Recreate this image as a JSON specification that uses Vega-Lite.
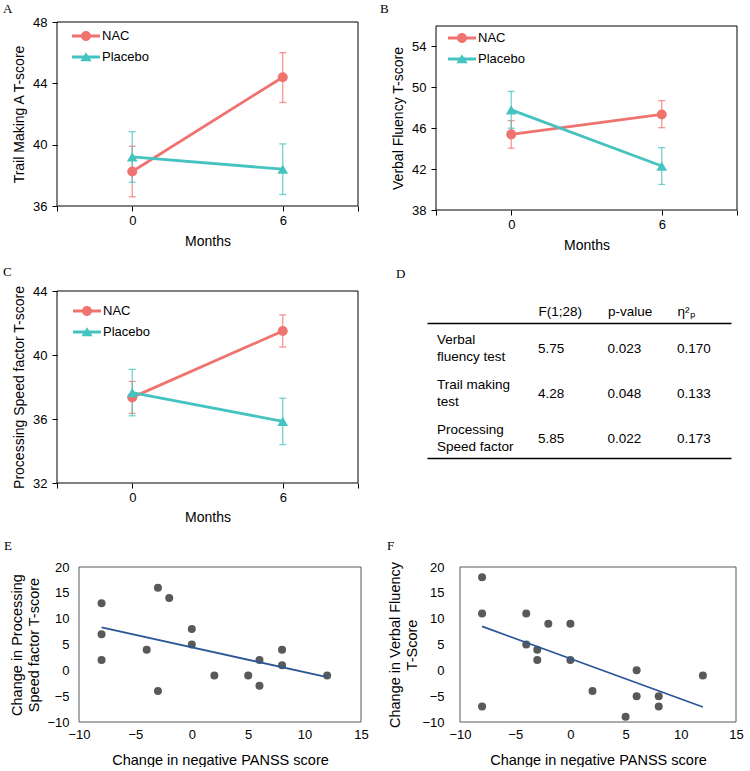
{
  "$schema": "https://vega.github.io/schema/vega-lite/v6.json",
  "background": "white",
  "padding": {"left": 3, "top": 3, "right": 0, "bottom": 0},
  "columns": 2,
  "bounds": "flush",
  "align": "each",
  "spacing": {"row": 81, "column": 75},
  "resolve": {"scale": {"fill": "independent", "shape": "independent"}, "legend": {"fill": "independent", "shape": "independent"}},
  "config": {
    "view": {"stroke": null},
    "font": "Liberation Sans",
    "axis": {"labelFont": "Liberation Sans", "titleFont": "Liberation Sans", "labelFontSize": 13, "titleFontSize": 14, "labelColor": "#000", "titleColor": "#000", "titleFontWeight": "normal", "grid": false, "domain": false, "tickColor": "#000", "labelFlush": false},
    "legend": {"labelFont": "Liberation Sans", "labelFontSize": 13, "labelColor": "#000"},
    "title": {"font": "Liberation Serif", "fontSize": 13, "fontWeight": "normal", "anchor": "start", "frame": "group", "offset": 4, "color": "#000"}
  },
  "concat": [
    {
      "width": 301, "height": 184,
      "title": {"text": "A", "dx": -54, "dy": 4},
      "data": {"values": [
        {"month": 0, "group": "NAC", "mean": 38.25, "lo": 36.6, "hi": 39.9},
        {"month": 6, "group": "NAC", "mean": 44.4, "lo": 42.75, "hi": 46.0},
        {"month": 0, "group": "Placebo", "mean": 39.2, "lo": 37.55, "hi": 40.85},
        {"month": 6, "group": "Placebo", "mean": 38.4, "lo": 36.75, "hi": 40.05}
      ]},
      "layer": [
        {"data": {"values": [{}]}, "mark": {"type": "rect", "filled": false, "stroke": "#000", "strokeWidth": 1},
         "encoding": {"x": {"datum": -3, "type": "quantitative", "scale": {"domain": [-3, 9], "nice": false, "zero": false}, "axis": {"values": [-3, 0, 6, 9], "labelExpr": "datum.value == 0 || datum.value == 6 ? datum.label : ''", "title": "Months", "tickSize": 5, "labelPadding": 3, "titlePadding": 7}}, "x2": {"datum": 9},
           "y": {"datum": 36, "type": "quantitative", "scale": {"domain": [36, 48], "nice": false, "zero": false}, "axis": {"values": [36, 40, 44, 48], "title": "Trail Making A T-score", "tickSize": 5, "labelPadding": 5, "titlePadding": 6}}, "y2": {"datum": 48}}},
        {"transform": [{"filter": "datum.group == 'NAC'"}], "mark": {"type": "errorbar", "ticks": true, "size": 7, "thickness": 1.3, "color": "#EF7470", "opacity": 0.75},
         "encoding": {"x": {"field": "month", "type": "quantitative", "scale": {"domain": [-3, 9], "nice": false, "zero": false}, "axis": {"values": [-3, 0, 6, 9], "labelExpr": "datum.value == 0 || datum.value == 6 ? datum.label : ''", "title": "Months", "tickSize": 5, "labelPadding": 3, "titlePadding": 7}},
           "y": {"field": "lo", "type": "quantitative", "scale": {"domain": [36, 48], "nice": false, "zero": false}, "axis": {"values": [36, 40, 44, 48], "title": "Trail Making A T-score", "tickSize": 5, "labelPadding": 5, "titlePadding": 6}}, "y2": {"field": "hi"}}},
        {"transform": [{"filter": "datum.group == 'Placebo'"}], "mark": {"type": "errorbar", "ticks": true, "size": 7, "thickness": 1.3, "color": "#45C3C1", "opacity": 0.75},
         "encoding": {"x": {"field": "month", "type": "quantitative", "scale": {"domain": [-3, 9], "nice": false, "zero": false}, "axis": {"values": [-3, 0, 6, 9], "labelExpr": "datum.value == 0 || datum.value == 6 ? datum.label : ''", "title": "Months", "tickSize": 5, "labelPadding": 3, "titlePadding": 7}},
           "y": {"field": "lo", "type": "quantitative", "scale": {"domain": [36, 48], "nice": false, "zero": false}, "axis": {"values": [36, 40, 44, 48], "title": "Trail Making A T-score", "tickSize": 5, "labelPadding": 5, "titlePadding": 6}}, "y2": {"field": "hi"}}},
        {"transform": [{"filter": "datum.group == 'NAC'"}], "mark": {"type": "line", "strokeWidth": 2.8, "color": "#EF7470"},
         "encoding": {"x": {"field": "month", "type": "quantitative", "scale": {"domain": [-3, 9], "nice": false, "zero": false}, "axis": {"values": [-3, 0, 6, 9], "labelExpr": "datum.value == 0 || datum.value == 6 ? datum.label : ''", "title": "Months", "tickSize": 5, "labelPadding": 3, "titlePadding": 7}},
           "y": {"field": "mean", "type": "quantitative", "scale": {"domain": [36, 48], "nice": false, "zero": false}, "axis": {"values": [36, 40, 44, 48], "title": "Trail Making A T-score", "tickSize": 5, "labelPadding": 5, "titlePadding": 6}}}},
        {"transform": [{"filter": "datum.group == 'Placebo'"}], "mark": {"type": "line", "strokeWidth": 2.8, "color": "#45C3C1"},
         "encoding": {"x": {"field": "month", "type": "quantitative", "scale": {"domain": [-3, 9], "nice": false, "zero": false}, "axis": {"values": [-3, 0, 6, 9], "labelExpr": "datum.value == 0 || datum.value == 6 ? datum.label : ''", "title": "Months", "tickSize": 5, "labelPadding": 3, "titlePadding": 7}},
           "y": {"field": "mean", "type": "quantitative", "scale": {"domain": [36, 48], "nice": false, "zero": false}, "axis": {"values": [36, 40, 44, 48], "title": "Trail Making A T-score", "tickSize": 5, "labelPadding": 5, "titlePadding": 6}}}},
        {"transform": [{"filter": "datum.group == 'NAC'"}], "mark": {"type": "point", "shape": "circle", "filled": true, "size": 100, "opacity": 1, "color": "#EF7470"},
         "encoding": {"x": {"field": "month", "type": "quantitative", "scale": {"domain": [-3, 9], "nice": false, "zero": false}, "axis": {"values": [-3, 0, 6, 9], "labelExpr": "datum.value == 0 || datum.value == 6 ? datum.label : ''", "title": "Months", "tickSize": 5, "labelPadding": 3, "titlePadding": 7}},
           "y": {"field": "mean", "type": "quantitative", "scale": {"domain": [36, 48], "nice": false, "zero": false}, "axis": {"values": [36, 40, 44, 48], "title": "Trail Making A T-score", "tickSize": 5, "labelPadding": 5, "titlePadding": 6}}}},
        {"transform": [{"filter": "datum.group == 'Placebo'"}], "mark": {"type": "point", "shape": "triangle-up", "filled": true, "size": 115, "opacity": 1, "color": "#45C3C1"},
         "encoding": {"x": {"field": "month", "type": "quantitative", "scale": {"domain": [-3, 9], "nice": false, "zero": false}, "axis": {"values": [-3, 0, 6, 9], "labelExpr": "datum.value == 0 || datum.value == 6 ? datum.label : ''", "title": "Months", "tickSize": 5, "labelPadding": 3, "titlePadding": 7}},
           "y": {"field": "mean", "type": "quantitative", "scale": {"domain": [36, 48], "nice": false, "zero": false}, "axis": {"values": [36, 40, 44, 48], "title": "Trail Making A T-score", "tickSize": 5, "labelPadding": 5, "titlePadding": 6}}}},
        {"transform": [{"filter": "false"}], "mark": {"type": "point", "filled": true, "opacity": 1, "size": 400},
         "encoding": {
           "fill": {"field": "group", "type": "nominal", "scale": {"domain": ["NAC", "Placebo"], "range": ["#EF7470", "#45C3C1"]},
             "legend": {"orient": "none", "legendX": 19, "legendY": 4, "direction": "vertical", "title": null, "symbolSize": 400, "labelOffset": 6, "rowPadding": 4, "padding": 0, "symbolStrokeWidth": 0}},
           "shape": {"field": "group", "type": "nominal", "scale": {"domain": ["NAC", "Placebo"], "range": ["M-1.4,-0.14H1.4V0.14H-1.4Z M0.5,0A0.5,0.5,0,1,1,-0.5,0A0.5,0.5,0,1,1,0.5,0Z", "M-1.4,-0.14H1.4V0.14H-1.4Z M0,-0.47L0.56,0.42H-0.56Z"]},
             "legend": {"orient": "none", "legendX": 19, "legendY": 4, "direction": "vertical", "title": null, "symbolSize": 400, "labelOffset": 6, "rowPadding": 4, "padding": 0, "symbolStrokeWidth": 0}}
         }}
      ]
    },
    {
      "width": 301, "height": 188,
      "title": {"text": "B", "dx": -56, "dy": -2},
      "data": {"values": [
        {"month": 0, "group": "NAC", "mean": 45.4, "lo": 44.05, "hi": 46.75},
        {"month": 6, "group": "NAC", "mean": 47.35, "lo": 46.05, "hi": 48.7},
        {"month": 0, "group": "Placebo", "mean": 47.8, "lo": 46.0, "hi": 49.6},
        {"month": 6, "group": "Placebo", "mean": 42.3, "lo": 40.5, "hi": 44.1}
      ]},
      "layer": [
        {"data": {"values": [{}]}, "mark": {"type": "rect", "filled": false, "stroke": "#000", "strokeWidth": 1},
         "encoding": {"x": {"datum": -3, "type": "quantitative", "scale": {"domain": [-3, 9], "nice": false, "zero": false}, "axis": {"values": [-3, 0, 6, 9], "labelExpr": "datum.value == 0 || datum.value == 6 ? datum.label : ''", "title": "Months", "tickSize": 5, "labelPadding": 3, "titlePadding": 7}}, "x2": {"datum": 9},
           "y": {"datum": 38, "type": "quantitative", "scale": {"domain": [38, 56], "range": [188, 4], "nice": false, "zero": false}, "axis": {"values": [38, 42, 46, 50, 54], "title": "Verbal Fluency T-score", "tickSize": 5, "labelPadding": 5, "titlePadding": 6}}, "y2": {"datum": 56}}},
        {"transform": [{"filter": "datum.group == 'NAC'"}], "mark": {"type": "errorbar", "ticks": true, "size": 7, "thickness": 1.3, "color": "#EF7470", "opacity": 0.75},
         "encoding": {"x": {"field": "month", "type": "quantitative", "scale": {"domain": [-3, 9], "nice": false, "zero": false}, "axis": {"values": [-3, 0, 6, 9], "labelExpr": "datum.value == 0 || datum.value == 6 ? datum.label : ''", "title": "Months", "tickSize": 5, "labelPadding": 3, "titlePadding": 7}},
           "y": {"field": "lo", "type": "quantitative", "scale": {"domain": [38, 56], "range": [188, 4], "nice": false, "zero": false}, "axis": {"values": [38, 42, 46, 50, 54], "title": "Verbal Fluency T-score", "tickSize": 5, "labelPadding": 5, "titlePadding": 6}}, "y2": {"field": "hi"}}},
        {"transform": [{"filter": "datum.group == 'Placebo'"}], "mark": {"type": "errorbar", "ticks": true, "size": 7, "thickness": 1.3, "color": "#45C3C1", "opacity": 0.75},
         "encoding": {"x": {"field": "month", "type": "quantitative", "scale": {"domain": [-3, 9], "nice": false, "zero": false}, "axis": {"values": [-3, 0, 6, 9], "labelExpr": "datum.value == 0 || datum.value == 6 ? datum.label : ''", "title": "Months", "tickSize": 5, "labelPadding": 3, "titlePadding": 7}},
           "y": {"field": "lo", "type": "quantitative", "scale": {"domain": [38, 56], "range": [188, 4], "nice": false, "zero": false}, "axis": {"values": [38, 42, 46, 50, 54], "title": "Verbal Fluency T-score", "tickSize": 5, "labelPadding": 5, "titlePadding": 6}}, "y2": {"field": "hi"}}},
        {"transform": [{"filter": "datum.group == 'NAC'"}], "mark": {"type": "line", "strokeWidth": 2.8, "color": "#EF7470"},
         "encoding": {"x": {"field": "month", "type": "quantitative", "scale": {"domain": [-3, 9], "nice": false, "zero": false}, "axis": {"values": [-3, 0, 6, 9], "labelExpr": "datum.value == 0 || datum.value == 6 ? datum.label : ''", "title": "Months", "tickSize": 5, "labelPadding": 3, "titlePadding": 7}},
           "y": {"field": "mean", "type": "quantitative", "scale": {"domain": [38, 56], "range": [188, 4], "nice": false, "zero": false}, "axis": {"values": [38, 42, 46, 50, 54], "title": "Verbal Fluency T-score", "tickSize": 5, "labelPadding": 5, "titlePadding": 6}}}},
        {"transform": [{"filter": "datum.group == 'Placebo'"}], "mark": {"type": "line", "strokeWidth": 2.8, "color": "#45C3C1"},
         "encoding": {"x": {"field": "month", "type": "quantitative", "scale": {"domain": [-3, 9], "nice": false, "zero": false}, "axis": {"values": [-3, 0, 6, 9], "labelExpr": "datum.value == 0 || datum.value == 6 ? datum.label : ''", "title": "Months", "tickSize": 5, "labelPadding": 3, "titlePadding": 7}},
           "y": {"field": "mean", "type": "quantitative", "scale": {"domain": [38, 56], "range": [188, 4], "nice": false, "zero": false}, "axis": {"values": [38, 42, 46, 50, 54], "title": "Verbal Fluency T-score", "tickSize": 5, "labelPadding": 5, "titlePadding": 6}}}},
        {"transform": [{"filter": "datum.group == 'NAC'"}], "mark": {"type": "point", "shape": "circle", "filled": true, "size": 100, "opacity": 1, "color": "#EF7470"},
         "encoding": {"x": {"field": "month", "type": "quantitative", "scale": {"domain": [-3, 9], "nice": false, "zero": false}, "axis": {"values": [-3, 0, 6, 9], "labelExpr": "datum.value == 0 || datum.value == 6 ? datum.label : ''", "title": "Months", "tickSize": 5, "labelPadding": 3, "titlePadding": 7}},
           "y": {"field": "mean", "type": "quantitative", "scale": {"domain": [38, 56], "range": [188, 4], "nice": false, "zero": false}, "axis": {"values": [38, 42, 46, 50, 54], "title": "Verbal Fluency T-score", "tickSize": 5, "labelPadding": 5, "titlePadding": 6}}}},
        {"transform": [{"filter": "datum.group == 'Placebo'"}], "mark": {"type": "point", "shape": "triangle-up", "filled": true, "size": 115, "opacity": 1, "color": "#45C3C1"},
         "encoding": {"x": {"field": "month", "type": "quantitative", "scale": {"domain": [-3, 9], "nice": false, "zero": false}, "axis": {"values": [-3, 0, 6, 9], "labelExpr": "datum.value == 0 || datum.value == 6 ? datum.label : ''", "title": "Months", "tickSize": 5, "labelPadding": 3, "titlePadding": 7}},
           "y": {"field": "mean", "type": "quantitative", "scale": {"domain": [38, 56], "range": [188, 4], "nice": false, "zero": false}, "axis": {"values": [38, 42, 46, 50, 54], "title": "Verbal Fluency T-score", "tickSize": 5, "labelPadding": 5, "titlePadding": 6}}}},
        {"transform": [{"filter": "false"}], "mark": {"type": "point", "filled": true, "opacity": 1, "size": 400},
         "encoding": {
           "fill": {"field": "group", "type": "nominal", "scale": {"domain": ["NAC", "Placebo"], "range": ["#EF7470", "#45C3C1"]},
             "legend": {"orient": "none", "legendX": 16, "legendY": 6, "direction": "vertical", "title": null, "symbolSize": 400, "labelOffset": 6, "rowPadding": 4, "padding": 0, "symbolStrokeWidth": 0}},
           "shape": {"field": "group", "type": "nominal", "scale": {"domain": ["NAC", "Placebo"], "range": ["M-1.4,-0.14H1.4V0.14H-1.4Z M0.5,0A0.5,0.5,0,1,1,-0.5,0A0.5,0.5,0,1,1,0.5,0Z", "M-1.4,-0.14H1.4V0.14H-1.4Z M0,-0.47L0.56,0.42H-0.56Z"]},
             "legend": {"orient": "none", "legendX": 16, "legendY": 6, "direction": "vertical", "title": null, "symbolSize": 400, "labelOffset": 6, "rowPadding": 4, "padding": 0, "symbolStrokeWidth": 0}}
         }}
      ]
    },
    {
      "width": 301, "height": 192,
      "title": {"text": "C", "dx": -54, "dy": -2},
      "data": {"values": [
        {"month": 0, "group": "NAC", "mean": 37.35, "lo": 36.35, "hi": 38.35},
        {"month": 6, "group": "NAC", "mean": 41.5, "lo": 40.5, "hi": 42.5},
        {"month": 0, "group": "Placebo", "mean": 37.65, "lo": 36.2, "hi": 39.1},
        {"month": 6, "group": "Placebo", "mean": 35.85, "lo": 34.4, "hi": 37.3}
      ]},
      "layer": [
        {"data": {"values": [{}]}, "mark": {"type": "rect", "filled": false, "stroke": "#000", "strokeWidth": 1},
         "encoding": {"x": {"datum": -3, "type": "quantitative", "scale": {"domain": [-3, 9], "nice": false, "zero": false}, "axis": {"values": [-3, 0, 6, 9], "labelExpr": "datum.value == 0 || datum.value == 6 ? datum.label : ''", "title": "Months", "tickSize": 5, "labelPadding": 3, "titlePadding": 6}}, "x2": {"datum": 9},
           "y": {"datum": 32, "type": "quantitative", "scale": {"domain": [32, 44], "nice": false, "zero": false}, "axis": {"values": [32, 36, 40, 44], "title": "Processing Speed factor T-score", "tickSize": 5, "labelPadding": 5, "titlePadding": 6}}, "y2": {"datum": 44}}},
        {"transform": [{"filter": "datum.group == 'NAC'"}], "mark": {"type": "errorbar", "ticks": true, "size": 7, "thickness": 1.3, "color": "#EF7470", "opacity": 0.75},
         "encoding": {"x": {"field": "month", "type": "quantitative", "scale": {"domain": [-3, 9], "nice": false, "zero": false}, "axis": {"values": [-3, 0, 6, 9], "labelExpr": "datum.value == 0 || datum.value == 6 ? datum.label : ''", "title": "Months", "tickSize": 5, "labelPadding": 3, "titlePadding": 6}},
           "y": {"field": "lo", "type": "quantitative", "scale": {"domain": [32, 44], "nice": false, "zero": false}, "axis": {"values": [32, 36, 40, 44], "title": "Processing Speed factor T-score", "tickSize": 5, "labelPadding": 5, "titlePadding": 6}}, "y2": {"field": "hi"}}},
        {"transform": [{"filter": "datum.group == 'Placebo'"}], "mark": {"type": "errorbar", "ticks": true, "size": 7, "thickness": 1.3, "color": "#45C3C1", "opacity": 0.75},
         "encoding": {"x": {"field": "month", "type": "quantitative", "scale": {"domain": [-3, 9], "nice": false, "zero": false}, "axis": {"values": [-3, 0, 6, 9], "labelExpr": "datum.value == 0 || datum.value == 6 ? datum.label : ''", "title": "Months", "tickSize": 5, "labelPadding": 3, "titlePadding": 6}},
           "y": {"field": "lo", "type": "quantitative", "scale": {"domain": [32, 44], "nice": false, "zero": false}, "axis": {"values": [32, 36, 40, 44], "title": "Processing Speed factor T-score", "tickSize": 5, "labelPadding": 5, "titlePadding": 6}}, "y2": {"field": "hi"}}},
        {"transform": [{"filter": "datum.group == 'NAC'"}], "mark": {"type": "line", "strokeWidth": 2.8, "color": "#EF7470"},
         "encoding": {"x": {"field": "month", "type": "quantitative", "scale": {"domain": [-3, 9], "nice": false, "zero": false}, "axis": {"values": [-3, 0, 6, 9], "labelExpr": "datum.value == 0 || datum.value == 6 ? datum.label : ''", "title": "Months", "tickSize": 5, "labelPadding": 3, "titlePadding": 6}},
           "y": {"field": "mean", "type": "quantitative", "scale": {"domain": [32, 44], "nice": false, "zero": false}, "axis": {"values": [32, 36, 40, 44], "title": "Processing Speed factor T-score", "tickSize": 5, "labelPadding": 5, "titlePadding": 6}}}},
        {"transform": [{"filter": "datum.group == 'Placebo'"}], "mark": {"type": "line", "strokeWidth": 2.8, "color": "#45C3C1"},
         "encoding": {"x": {"field": "month", "type": "quantitative", "scale": {"domain": [-3, 9], "nice": false, "zero": false}, "axis": {"values": [-3, 0, 6, 9], "labelExpr": "datum.value == 0 || datum.value == 6 ? datum.label : ''", "title": "Months", "tickSize": 5, "labelPadding": 3, "titlePadding": 6}},
           "y": {"field": "mean", "type": "quantitative", "scale": {"domain": [32, 44], "nice": false, "zero": false}, "axis": {"values": [32, 36, 40, 44], "title": "Processing Speed factor T-score", "tickSize": 5, "labelPadding": 5, "titlePadding": 6}}}},
        {"transform": [{"filter": "datum.group == 'NAC'"}], "mark": {"type": "point", "shape": "circle", "filled": true, "size": 100, "opacity": 1, "color": "#EF7470"},
         "encoding": {"x": {"field": "month", "type": "quantitative", "scale": {"domain": [-3, 9], "nice": false, "zero": false}, "axis": {"values": [-3, 0, 6, 9], "labelExpr": "datum.value == 0 || datum.value == 6 ? datum.label : ''", "title": "Months", "tickSize": 5, "labelPadding": 3, "titlePadding": 6}},
           "y": {"field": "mean", "type": "quantitative", "scale": {"domain": [32, 44], "nice": false, "zero": false}, "axis": {"values": [32, 36, 40, 44], "title": "Processing Speed factor T-score", "tickSize": 5, "labelPadding": 5, "titlePadding": 6}}}},
        {"transform": [{"filter": "datum.group == 'Placebo'"}], "mark": {"type": "point", "shape": "triangle-up", "filled": true, "size": 115, "opacity": 1, "color": "#45C3C1"},
         "encoding": {"x": {"field": "month", "type": "quantitative", "scale": {"domain": [-3, 9], "nice": false, "zero": false}, "axis": {"values": [-3, 0, 6, 9], "labelExpr": "datum.value == 0 || datum.value == 6 ? datum.label : ''", "title": "Months", "tickSize": 5, "labelPadding": 3, "titlePadding": 6}},
           "y": {"field": "mean", "type": "quantitative", "scale": {"domain": [32, 44], "nice": false, "zero": false}, "axis": {"values": [32, 36, 40, 44], "title": "Processing Speed factor T-score", "tickSize": 5, "labelPadding": 5, "titlePadding": 6}}}},
        {"transform": [{"filter": "false"}], "mark": {"type": "point", "filled": true, "opacity": 1, "size": 400},
         "encoding": {
           "fill": {"field": "group", "type": "nominal", "scale": {"domain": ["NAC", "Placebo"], "range": ["#EF7470", "#45C3C1"]},
             "legend": {"orient": "none", "legendX": 20, "legendY": 10, "direction": "vertical", "title": null, "symbolSize": 400, "labelOffset": 6, "rowPadding": 4, "padding": 0, "symbolStrokeWidth": 0}},
           "shape": {"field": "group", "type": "nominal", "scale": {"domain": ["NAC", "Placebo"], "range": ["M-1.4,-0.14H1.4V0.14H-1.4Z M0.5,0A0.5,0.5,0,1,1,-0.5,0A0.5,0.5,0,1,1,0.5,0Z", "M-1.4,-0.14H1.4V0.14H-1.4Z M0,-0.47L0.56,0.42H-0.56Z"]},
             "legend": {"orient": "none", "legendX": 20, "legendY": 10, "direction": "vertical", "title": null, "symbolSize": 400, "labelOffset": 6, "rowPadding": 4, "padding": 0, "symbolStrokeWidth": 0}}
         }}
      ]
    },
    {
      "width": 304, "height": 167,
      "title": {"text": "D", "dx": -40, "dy": -6},
      "data": {"values": [
        {"test": "Verbal fluency test", "stat": "Test", "value": "Verbal\nfluency test"},
        {"test": "Verbal fluency test", "stat": "F(1;28)", "value": "5.75"},
        {"test": "Verbal fluency test", "stat": "p-value", "value": "0.023"},
        {"test": "Verbal fluency test", "stat": "η²ₚ", "value": "0.170"},
        {"test": "Trail making test", "stat": "Test", "value": "Trail making\ntest"},
        {"test": "Trail making test", "stat": "F(1;28)", "value": "4.28"},
        {"test": "Trail making test", "stat": "p-value", "value": "0.048"},
        {"test": "Trail making test", "stat": "η²ₚ", "value": "0.133"},
        {"test": "Processing Speed factor", "stat": "Test", "value": "Processing\nSpeed factor"},
        {"test": "Processing Speed factor", "stat": "F(1;28)", "value": "5.85"},
        {"test": "Processing Speed factor", "stat": "p-value", "value": "0.022"},
        {"test": "Processing Speed factor", "stat": "η²ₚ", "value": "0.173"}
      ]},
      "layer": [
        {"transform": [{"filter": "datum.stat != 'Test'"}],
         "mark": {"type": "text", "align": "left", "baseline": "middle", "fontSize": 13.5, "font": "Liberation Sans", "color": "#000"},
         "encoding": {
           "x": {"field": "stat", "type": "nominal", "scale": {"domain": ["Test", "F(1;28)", "p-value", "η²ₚ"], "range": [-9, 295], "padding": 0.687, "align": 0.435},
             "axis": {"orient": "top", "offset": -32, "domain": true, "domainColor": "#000", "domainWidth": 1.5, "ticks": false, "labelAngle": 0, "labelAlign": "left", "labelBaseline": "bottom", "labelPadding": 5, "labelFontSize": 13.5, "labelExpr": "datum.value == 'Test' ? '' : datum.value", "title": null}},
           "y": {"field": "test", "type": "nominal", "scale": {"domain": ["Verbal fluency test", "Trail making test", "Processing Speed factor"], "range": [35, 170], "padding": 0.5}, "axis": null},
           "text": {"field": "value"}}},
        {"transform": [{"filter": "datum.stat == 'Test'"}],
         "mark": {"type": "text", "align": "left", "baseline": "middle", "fontSize": 13.5, "font": "Liberation Sans", "color": "#000", "lineBreak": "\n", "lineHeight": 17, "dx": -31.5, "dy": -8.5},
         "encoding": {
           "x": {"field": "stat", "type": "nominal", "axis": {"orient": "bottom", "domain": true, "domainColor": "#000", "domainWidth": 1.5, "ticks": false, "labels": false, "title": null}},
           "y": {"field": "test", "type": "nominal", "axis": null},
           "text": {"field": "value"}}}
      ],
      "resolve": {"axis": {"x": "independent"}}
    },
    {
      "width": 304, "height": 158,
      "title": {"text": "E", "dx": -53, "dy": -4},
      "data": {"values": [
        {"x": -8, "y": 13}, {"x": -8, "y": 7}, {"x": -8, "y": 2}, {"x": -3, "y": 16},
        {"x": -2, "y": 14}, {"x": -4, "y": 4}, {"x": -3, "y": -4}, {"x": 0, "y": 8},
        {"x": 0, "y": 5}, {"x": 2, "y": -1}, {"x": 5, "y": -1}, {"x": 6, "y": 2},
        {"x": 6, "y": -3}, {"x": 8, "y": 4}, {"x": 8, "y": 1}, {"x": 12, "y": -1}
      ]},
      "layer": [
        {"data": {"values": [{}]}, "mark": {"type": "rect", "filled": false, "stroke": "#595959", "strokeWidth": 1},
         "encoding": {
           "x": {"datum": -10, "type": "quantitative", "scale": {"domain": [-10, 15], "range": [22, 304], "nice": false, "zero": false},
             "axis": {"values": [-10, -5, 0, 5, 10, 15], "ticks": false, "labelPadding": 6, "titlePadding": 12, "titleFontSize": 14.5, "title": "Change in negative PANSS score"}}, "x2": {"datum": 15},
           "y": {"datum": -10, "type": "quantitative", "scale": {"domain": [-10, 20], "range": [158, 3], "nice": false, "zero": false},
             "axis": {"values": [-10, -5, 0, 5, 10, 15, 20], "ticks": false, "offset": -22, "labelPadding": 10, "titlePadding": 5, "titleFontSize": 14.5, "titleLineHeight": 17, "title": ["Change in Processing", "Speed factor T-score"]}}, "y2": {"datum": 20}}},
        {"mark": {"type": "point", "filled": true, "color": "#595959", "size": 64, "opacity": 1},
         "encoding": {
           "x": {"field": "x", "type": "quantitative", "scale": {"domain": [-10, 15], "range": [22, 304], "nice": false, "zero": false},
             "axis": {"values": [-10, -5, 0, 5, 10, 15], "ticks": false, "labelPadding": 6, "titlePadding": 12, "titleFontSize": 14.5, "title": "Change in negative PANSS score"}},
           "y": {"field": "y", "type": "quantitative", "scale": {"domain": [-10, 20], "range": [158, 3], "nice": false, "zero": false},
             "axis": {"values": [-10, -5, 0, 5, 10, 15, 20], "ticks": false, "offset": -22, "labelPadding": 10, "titlePadding": 5, "titleFontSize": 14.5, "titleLineHeight": 17, "title": ["Change in Processing", "Speed factor T-score"]}}}},
        {"transform": [{"regression": "y", "on": "x", "extent": [-8, 12]}],
         "mark": {"type": "line", "color": "#2B5797", "strokeWidth": 1.8},
         "encoding": {
           "x": {"field": "x", "type": "quantitative", "scale": {"domain": [-10, 15], "range": [22, 304], "nice": false, "zero": false},
             "axis": {"values": [-10, -5, 0, 5, 10, 15], "ticks": false, "labelPadding": 6, "titlePadding": 12, "titleFontSize": 14.5, "title": "Change in negative PANSS score"}},
           "y": {"field": "y", "type": "quantitative", "scale": {"domain": [-10, 20], "range": [158, 3], "nice": false, "zero": false},
             "axis": {"values": [-10, -5, 0, 5, 10, 15, 20], "ticks": false, "offset": -22, "labelPadding": 10, "titlePadding": 5, "titleFontSize": 14.5, "titleLineHeight": 17, "title": ["Change in Processing", "Speed factor T-score"]}}}}
      ]
    },
    {
      "width": 300, "height": 158,
      "title": {"text": "F", "dx": -49, "dy": -4},
      "data": {"values": [
        {"x": -8, "y": 18}, {"x": -8, "y": 11}, {"x": -8, "y": -7}, {"x": -4, "y": 11},
        {"x": -4, "y": 5}, {"x": -3, "y": 4}, {"x": -3, "y": 2}, {"x": -2, "y": 9},
        {"x": 0, "y": 9}, {"x": 0, "y": 2}, {"x": 2, "y": -4}, {"x": 5, "y": -9},
        {"x": 6, "y": 0}, {"x": 6, "y": -5}, {"x": 8, "y": -5}, {"x": 8, "y": -7},
        {"x": 12, "y": -1}
      ]},
      "layer": [
        {"data": {"values": [{}]}, "mark": {"type": "rect", "filled": false, "stroke": "#595959", "strokeWidth": 1},
         "encoding": {
           "x": {"datum": -10, "type": "quantitative", "scale": {"domain": [-10, 15], "range": [24, 300], "nice": false, "zero": false},
             "axis": {"values": [-10, -5, 0, 5, 10, 15], "ticks": false, "labelPadding": 6, "titlePadding": 12, "titleFontSize": 14.5, "title": "Change in negative PANSS score"}}, "x2": {"datum": 15},
           "y": {"datum": -10, "type": "quantitative", "scale": {"domain": [-10, 20], "range": [158, 3], "nice": false, "zero": false},
             "axis": {"values": [-10, -5, 0, 5, 10, 15, 20], "ticks": false, "offset": -24, "labelPadding": 16, "titlePadding": 2, "titleFontSize": 14.5, "titleLineHeight": 17, "title": ["Change in Verbal Fluency", "T-Score"]}}, "y2": {"datum": 20}}},
        {"mark": {"type": "point", "filled": true, "color": "#595959", "size": 64, "opacity": 1},
         "encoding": {
           "x": {"field": "x", "type": "quantitative", "scale": {"domain": [-10, 15], "range": [24, 300], "nice": false, "zero": false},
             "axis": {"values": [-10, -5, 0, 5, 10, 15], "ticks": false, "labelPadding": 6, "titlePadding": 12, "titleFontSize": 14.5, "title": "Change in negative PANSS score"}},
           "y": {"field": "y", "type": "quantitative", "scale": {"domain": [-10, 20], "range": [158, 3], "nice": false, "zero": false},
             "axis": {"values": [-10, -5, 0, 5, 10, 15, 20], "ticks": false, "offset": -24, "labelPadding": 16, "titlePadding": 2, "titleFontSize": 14.5, "titleLineHeight": 17, "title": ["Change in Verbal Fluency", "T-Score"]}}}},
        {"transform": [{"regression": "y", "on": "x", "extent": [-8, 12]}],
         "mark": {"type": "line", "color": "#2B5797", "strokeWidth": 1.8},
         "encoding": {
           "x": {"field": "x", "type": "quantitative", "scale": {"domain": [-10, 15], "range": [24, 300], "nice": false, "zero": false},
             "axis": {"values": [-10, -5, 0, 5, 10, 15], "ticks": false, "labelPadding": 6, "titlePadding": 12, "titleFontSize": 14.5, "title": "Change in negative PANSS score"}},
           "y": {"field": "y", "type": "quantitative", "scale": {"domain": [-10, 20], "range": [158, 3], "nice": false, "zero": false},
             "axis": {"values": [-10, -5, 0, 5, 10, 15, 20], "ticks": false, "offset": -24, "labelPadding": 16, "titlePadding": 2, "titleFontSize": 14.5, "titleLineHeight": 17, "title": ["Change in Verbal Fluency", "T-Score"]}}}}
      ]
    }
  ]
}
